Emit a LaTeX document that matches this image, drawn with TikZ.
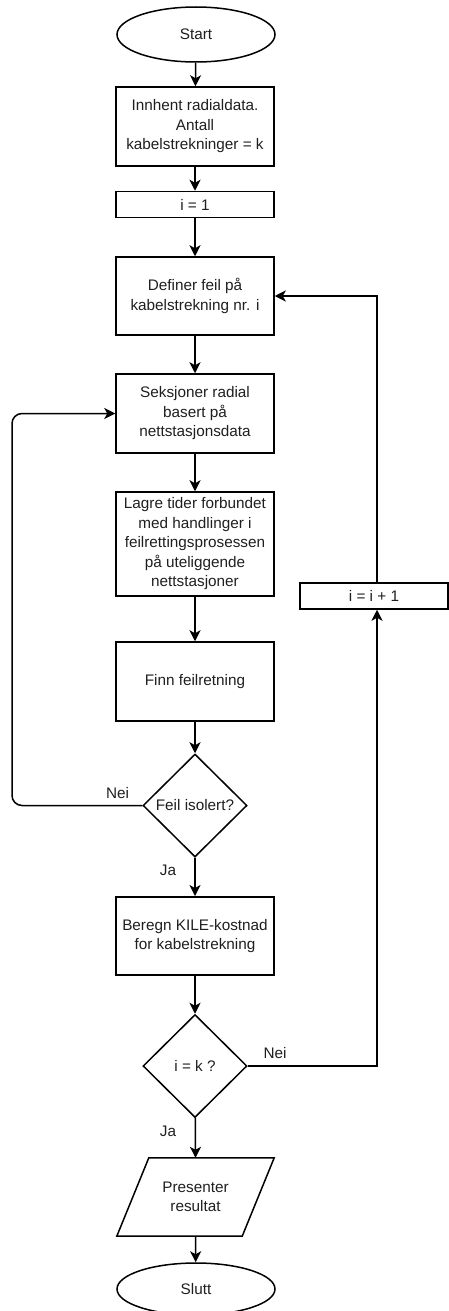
\documentclass[tikz,border=0pt]{standalone}
\usepackage{fontspec}
\setmainfont{Liberation Sans}
\usetikzlibrary{shapes.geometric,arrows.meta,calc}

\begin{document}
\begin{tikzpicture}[x=1pt,y=-1pt,
  every node/.style={font=\fontsize{15.3}{19.5}\selectfont, text=black!88},
  proc/.style={draw, line width=1.5pt, rectangle, align=center,
    minimum width=158pt, minimum height=79pt, inner sep=2pt},
  thin proc/.style={proc, minimum height=26pt},
  term/.style={draw, line width=1.5pt, ellipse, minimum width=158pt,
    minimum height=55pt, inner sep=0pt},
  decision/.style={draw, line width=1.5pt, diamond, minimum width=104pt,
    minimum height=103pt, inner sep=0pt, align=center},
  flow/.style={line width=1.5pt, -{Stealth[length=11pt,width=11pt,inset=3pt]}},
  lbl/.style={inner sep=0pt}]
\clip (0,0) rectangle (449,1311);
\useasboundingbox (0,0) rectangle (449,1311);

% main column
\node[term] (start) at (196,34.5) {Start};
\node[proc] (fetch) at (195,126.5) {Innhent radialdata.\\Antall\\kabelstrekninger = k};
\node[thin proc] (init) at (195,204.5) {i = 1};
\node[proc, minimum height=78pt] (def) at (195,296) {Definer feil på\\kabelstrekning nr. i};
\node[proc] (seks) at (195,413.5) {Seksjoner radial\\basert på\\nettstasjonsdata};
\node[proc, minimum height=104pt] (lagre) at (195,544) {Lagre tider forbundet\\med handlinger i\\feilrettingsprosessen\\på uteliggende\\nettstasjoner};
\node[proc] (finn) at (195,681.5) {Finn feilretning};
\node[decision] (iso) at (195,805.5) {Feil isolert?};
\node[proc, line width=2pt, minimum height=78pt] (kile) at (195,936) {Beregn KILE-kostnad\\for kabelstrekning};
\node[decision] (last) at (195,1066) {i = k ?};
\node[align=center, minimum width=125pt, minimum height=78pt] (res) at (195.5,1197) {Presenter\\resultat};
\draw[line width=1.5pt] ($(res.north west)+(16,0)$) -- ($(res.north east)+(16,0)$)
  -- ($(res.south east)+(-16,0)$) -- ($(res.south west)+(-16,0)$) -- cycle;
\node[term, minimum height=52pt] (slutt) at (196,1289) {Slutt};

% counter box on the right
\node[thin proc, minimum width=148pt] (inc) at (374,596) {i = i + 1};

% straight connectors
\draw[flow] (start) -- (fetch);
\draw[flow] (fetch) -- (init);
\draw[flow] (init) -- (def);
\draw[flow] (def) -- (seks);
\draw[flow] (seks) -- (lagre);
\draw[flow] (lagre) -- (finn);
\draw[flow] (finn) -- (iso);
\draw[flow] (iso) -- (kile);
\draw[flow] (kile) -- (last);
\draw[flow] (last) -- (res.north);
\draw[flow] (res.south) -- (slutt);

% loop back when the fault is not isolated
\coordinate (lc) at (12,413.5);
\draw[flow, rounded corners=10pt] (iso.west) -| (lc) -- (seks.west);

% loop back to the next cable section
\coordinate (rb) at (377,1066);
\coordinate (rt) at (377,296);
\draw[flow] (last.east) -- (rb) -- (rb |- inc.south);
\draw[flow] (rt |- inc.north) -- (rt) -- (def.east);

% branch labels
\node[lbl] (nei1) at (117.5,793) {Nei};
\node[lbl] (ja1) at (168,870) {Ja};
\node[lbl] (nei2) at (275,1053) {Nei};
\node[lbl] (ja2) at (168,1131) {Ja};
\end{tikzpicture}
\end{document}
